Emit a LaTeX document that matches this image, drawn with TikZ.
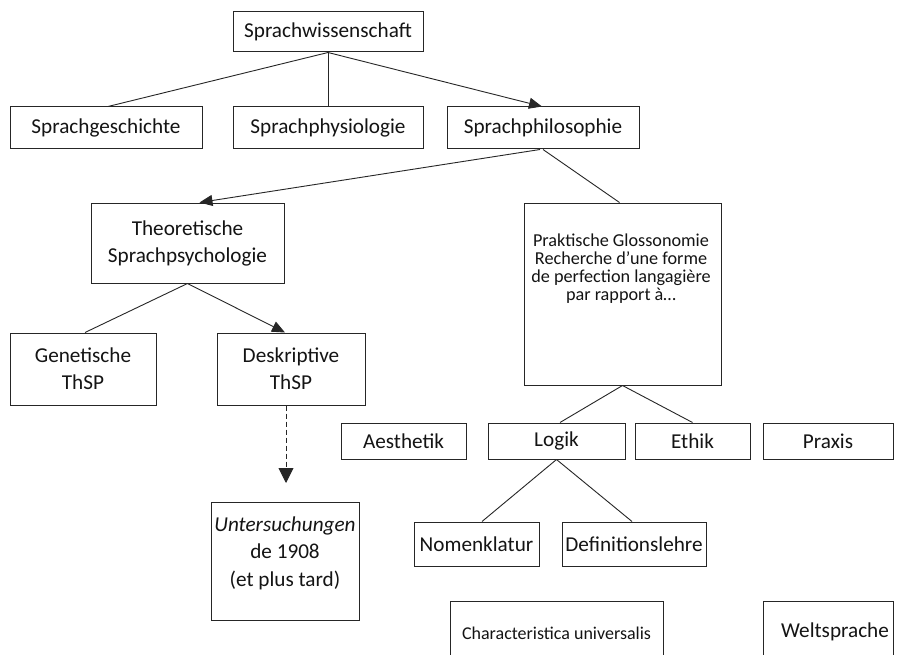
\documentclass[tikz,border=0pt]{standalone}
\usepackage{fontspec}
\setmainfont{Carlito}
\usetikzlibrary{arrows.meta}
\begin{document}
\begin{tikzpicture}[x=1pt,y=-1pt,
  box/.style={draw=black!85, line width=1pt, inner sep=0pt, align=center,
    font=\fontsize{21.2}{27}\selectfont, text=black!92},
  txt/.style={inner sep=0pt, align=center, font=\fontsize{21.2}{27.5}\selectfont, text=black!92},
  smalltxt/.style={inner sep=0pt, align=center, font=\fontsize{18.2}{18}\selectfont, text=black!92},
  conn/.style={draw=black!85, line width=0.9pt},
  arr/.style={conn, -{Triangle[length=13pt,width=11pt]}},
  darr/.style={conn, dash pattern=on 5pt off 3pt, -{Triangle[length=15pt,width=15pt]}},
]
\useasboundingbox (0,0) rectangle (904,655);
\fill[white] (0,0) rectangle (904,655);

% top level
\node[box, minimum width=190pt, minimum height=40pt] (sw) at (328,32) {Sprachwissenschaft};
\node[box, minimum width=192pt, minimum height=42pt] (sg) at (106,128) {Sprachgeschichte};
\node[box, minimum width=190pt, minimum height=42pt] (sphys) at (328,128) {Sprachphysiologie};
\node[box, minimum width=192pt, minimum height=42pt] (sphil) at (543,128) {Sprachphilosophie};

% second level
\node[box, minimum width=193pt, minimum height=80pt] (theo) at (187.5,243) {Theoretische\\Sprachpsychologie};
\node[box, minimum width=197pt, minimum height=182pt] (prak) at (622.5,294) {};
\node[smalltxt] (prakt) at (621,269) {Praktische Glossonomie\\Recherche d’une forme\\de perfection langagière\\par rapport à…};

% third level left
\node[box, minimum width=146pt, minimum height=72pt] (gen) at (83,369) {Genetische\\ThSP};
\node[box, minimum width=148pt, minimum height=72pt] (desk) at (291,369) {Deskriptive\\ThSP};
\node[box, minimum width=148pt, minimum height=118pt] (unt) at (285,561) {};
\node[txt] (untt) at (285,553) {\textit{Untersuchungen}\\de 1908\\(et plus tard)};
\coordinate (dend) at (286,483);

% third level right
\node[box, minimum width=125pt, minimum height=36pt] (aes) at (403.5,441) {Aesthetik};
\node[box, minimum width=137pt, minimum height=36pt] (log) at (556.5,441) {Logik};
\node[box, minimum width=115pt, minimum height=36pt] (eth) at (692.5,441) {Ethik};
\node[box, minimum width=130pt, minimum height=36pt] (prx) at (828,441) {Praxis};

\node[box, minimum width=125pt, minimum height=44pt] (nom) at (476.5,544) {Nomenklatur};
\node[box, minimum width=144pt, minimum height=44pt] (def) at (634,544) {Definitionslehre};

\node[box, minimum width=213pt, minimum height=64pt, font=\fontsize{18}{18}\selectfont] (char) at (556.5,633) {Characteristica universalis};
\node[box, minimum width=130pt, minimum height=64pt] (welt) at (828,633) {};
\node[txt] (weltt) at (835,632) {Weltsprache};

% connectors
\draw[conn] (sw.south) -- ([xshift=2pt]sg.north);
\draw[conn] (sw.south) -- (sphys.north);
\draw[arr] (sw.south) -- ([xshift=-1pt]sphil.north);
\draw[arr] ([xshift=-3pt]sphil.south) -- ([xshift=12pt]theo.north);
\draw[conn] (sphil.south) -- ([xshift=-3pt]prak.north);
\draw[conn] (theo.south) -- ([xshift=2pt]gen.north);
\draw[arr] (theo.south) -- ([xshift=-6pt]desk.north);
\draw[darr] ([xshift=-5pt]desk.south) -- (dend);
\draw[conn] (prak.south) -- ([xshift=3.5pt]log.north);
\draw[conn] (prak.south) -- (eth.north);
\draw[conn] (log.south) -- ([xshift=5.5pt]nom.north);
\draw[conn] (log.south) -- ([xshift=-2pt]def.north);
\end{tikzpicture}
\end{document}
